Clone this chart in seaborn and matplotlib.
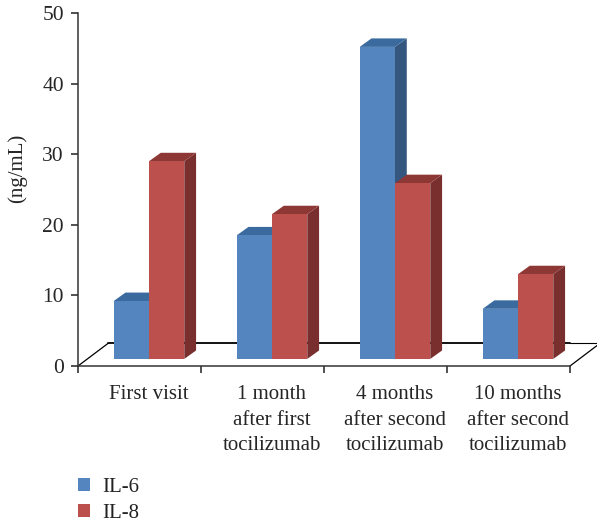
import matplotlib
matplotlib.use('Agg')
import matplotlib.pyplot as plt
from matplotlib.patches import Polygon
import pandas as pd
import seaborn as sns

# values as read against the left axis
visits = ['First visit', '1 month\nafter first\ntocilizumab', '4 months\nafter second\ntocilizumab',
          '10 months\nafter second\ntocilizumab']
il6 = [9.2, 18.5, 45.2, 8.1]
il8 = [29.0, 21.5, 25.9, 13.0]
y_ticks = [0, 10, 20, 30, 40, 50]

base = 1.0  # front of the bars stands a bit above the axis floor
shift = 0.077
depth_x, depth_y = 0.096, 1.2

front = {'IL-6': '#5585BE', 'IL-8': '#BC504D'}
top = {'IL-6': '#3A6A9E', 'IL-8': '#8E3835'}
side = {'IL-6': '#34567F', 'IL-8': '#7A2F2F'}

sns.set_style('ticks')
plt.rcParams['font.family'] = ['Liberation Serif', 'DejaVu Serif']
plt.rcParams['text.color'] = '#222222'

df = pd.DataFrame({
    'visit': visits * 2,
    'series': ['IL-6'] * 4 + ['IL-8'] * 4,
    'value': il6 + il8,
})
df['height'] = df['value'] - base

fig = plt.figure(figsize=(5.97, 5.22), dpi=100)
ax = fig.add_axes([78 / 597, 1 - 366 / 522, 492 / 597, 353 / 522])

sns.barplot(data=df, x='visit', y='height', hue='series', palette=front, width=0.574, gap=0,
            saturation=1, ax=ax, zorder=4, linewidth=0)

# lift the bars to the floor, slide them back and give them 3D faces
for container, name in zip(ax.containers, ['IL-6', 'IL-8']):
    z = 2 if name == 'IL-6' else 3
    for bar in container:
        bar.set_x(bar.get_x() + shift)
        bar.set_y(base)
        bar.set_zorder(z + 2)
        x0, x1 = bar.get_x(), bar.get_x() + bar.get_width()
        y0, y1 = base, base + bar.get_height()
        ax.add_patch(Polygon([(x1, y0), (x1 + depth_x, y0 + depth_y), (x1 + depth_x, y1 + depth_y), (x1, y1)],
                             fc=side[name], lw=0, zorder=z, clip_on=False))
        ax.add_patch(Polygon([(x0, y1), (x0 + depth_x, y1 + depth_y), (x1 + depth_x, y1 + depth_y), (x1, y1)],
                             fc=top[name], lw=0, zorder=z, clip_on=False))

ax.set_xlim(-0.5, 3.5)
ax.set_ylim(0, 50)

# floor of the chart
floor_y = 3.2
ax.plot([-0.5, -0.256], [0, floor_y], color='black', lw=0.9, zorder=1, clip_on=False)
ax.plot([-0.256, 3.5], [floor_y, floor_y], color='black', lw=1.3, zorder=1, clip_on=False)
ax.plot([3.5, 3.72], [0, 2.9], color='black', lw=0.9, zorder=1, clip_on=False)
ax.plot([3.5, 3.72], [floor_y, floor_y], color='black', lw=0.8, zorder=1, clip_on=False)

ax.set_yticks(y_ticks)
ax.set_xticks([-0.5, 0.5, 1.5, 2.5, 3.5])
ax.set_xticklabels([])
ax.set_xticks([i + shift for i in range(4)], minor=True)
ax.set_xticklabels(visits, minor=True, fontsize=15, linespacing=1.44)
ax.tick_params(axis='x', which='minor', length=0, pad=14)
ax.tick_params(axis='both', which='major', length=5.2, width=1.1, color='#222222', labelsize=15.5, pad=5)
ax.set_xlabel('')
ax.set_ylabel('(ng/mL)', fontsize=15, labelpad=8)
ax.yaxis.set_label_coords(-0.103, 0.56)

for spine in ['left', 'bottom']:
    ax.spines[spine].set_color('#333333')
    ax.spines[spine].set_linewidth(1.1)
sns.despine(ax=ax)

handles, labels = ax.get_legend_handles_labels()
ax.legend(handles, labels, loc='upper left', bbox_to_anchor=(78 / 597, 1 - 478 / 522),
          bbox_transform=fig.transFigure, frameon=False, fontsize=15, handlelength=0.58, handleheight=0.58,
          handletextpad=0.58, labelspacing=0.33, borderpad=0, borderaxespad=0, title=None)

fig.savefig('out.png', dpi=100)
